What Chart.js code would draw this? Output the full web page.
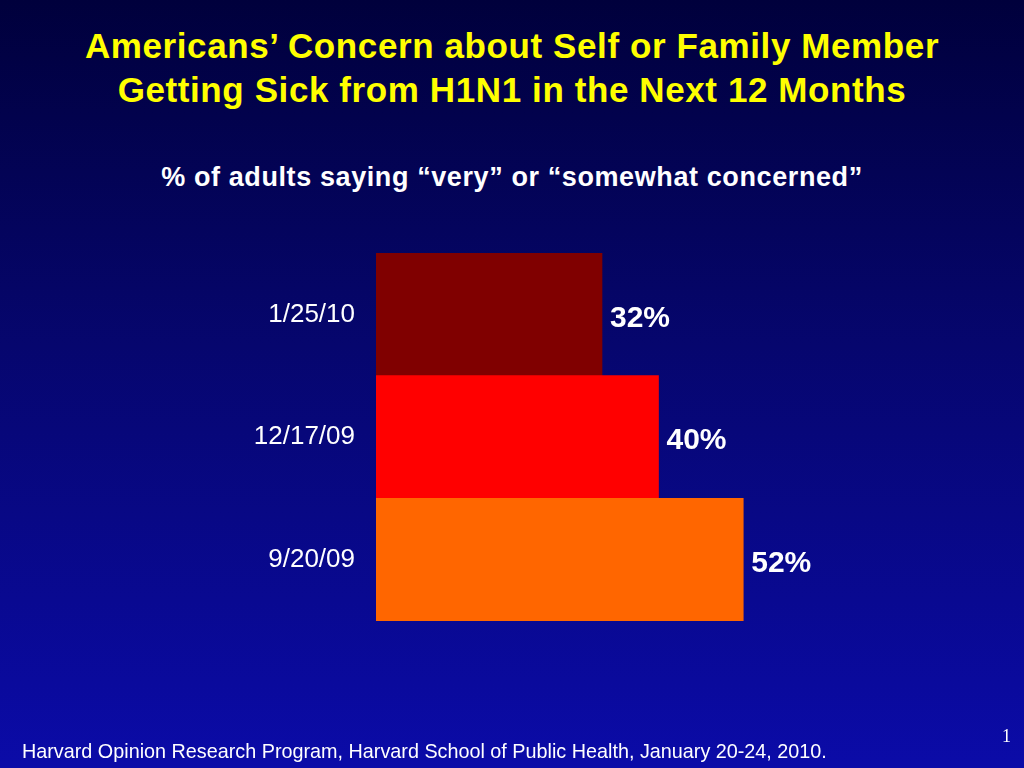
<!DOCTYPE html>
<html>
<head>
<meta charset="utf-8">
<script src="https://cdn.jsdelivr.net/npm/chart.js@4"></script>
<style>
  html, body { margin: 0; padding: 0; }
  body {
    width: 1024px; height: 768px; overflow: hidden; position: relative;
    background: linear-gradient(to bottom, #00003c 0%, #06066e 45%, #0b0ba8 100%);
    font-family: "Liberation Sans", Arial, sans-serif;
  }
  #chart { position: absolute; left: 0; top: 0; }
  .title { position: absolute; left: 0; width: 1024px; top: 24px; text-align: center;
    color: #ffff00; font-weight: bold; font-size: 35px; line-height: 44px; letter-spacing: 0.6px; }
  .sub { position: absolute; left: 0; width: 1024px; top: 162px; text-align: center;
    color: #fff; font-weight: bold; font-size: 27px; letter-spacing: 0.6px; }
  .foot { position: absolute; left: 22px; top: 740px; color: #fff; font-size: 19.8px; }
  .page { position: absolute; left: 1002px; top: 726px; color: #fff; font-size: 18px;
    font-family: "Liberation Serif", serif; }
</style>
</head>
<body>
<div class="title">Americans’ Concern about Self or Family Member<br>Getting Sick from H1N1 in the Next 12 Months</div>
<div class="sub">% of adults saying “very” or “somewhat concerned”</div>
<canvas id="chart" width="1024" height="768"></canvas>
<div class="foot">Harvard Opinion Research Program, Harvard School of Public Health, January 20-24, 2010.</div>
<div class="page">1</div>
<script>
const dates = ['1/25/10', '12/17/09', '9/20/09'];
const concerned = [32, 40, 52];
const barColors = ['#800000', '#ff0000', '#ff6600'];

const valueLabels = {
    id: 'valueLabels',
    afterDatasetsDraw(chart) {
        const ctx = chart.ctx;
        const meta = chart.getDatasetMeta(0);
        ctx.save();
        ctx.fillStyle = '#fff';
        ctx.font = 'bold 30px "Liberation Sans", Arial, sans-serif';
        ctx.textAlign = 'left';
        ctx.textBaseline = 'middle';
        meta.data.forEach((bar, i) => {
            ctx.fillText(concerned[i] + '%', bar.x + 8, bar.y + 4);
        });
        ctx.restore();
    }
};

new Chart(document.getElementById('chart'), {
    type: 'bar',
    data: {
        labels: dates,
        datasets: [{
            data: concerned,
            backgroundColor: barColors,
            borderWidth: 0,
            barPercentage: 1,
            categoryPercentage: 1
        }]
    },
    options: {
        indexAxis: 'y',
        responsive: false,
        animation: false,
        layout: { padding: { left: 0, top: 253, bottom: 147, right: 83 } },
        plugins: { legend: { display: false }, tooltip: { enabled: false } },
        scales: {
            x: { display: false, min: 0, max: 80 },
            y: {
                grid: { display: false },
                border: { display: false },
                afterFit(scale) { scale.width = 376; },
                ticks: {
                    color: '#fff',
                    padding: 13,
                    font: { size: 26, family: '"Liberation Sans", Arial, sans-serif' }
                }
            }
        }
    },
    plugins: [valueLabels]
});
</script>
</body>
</html>
